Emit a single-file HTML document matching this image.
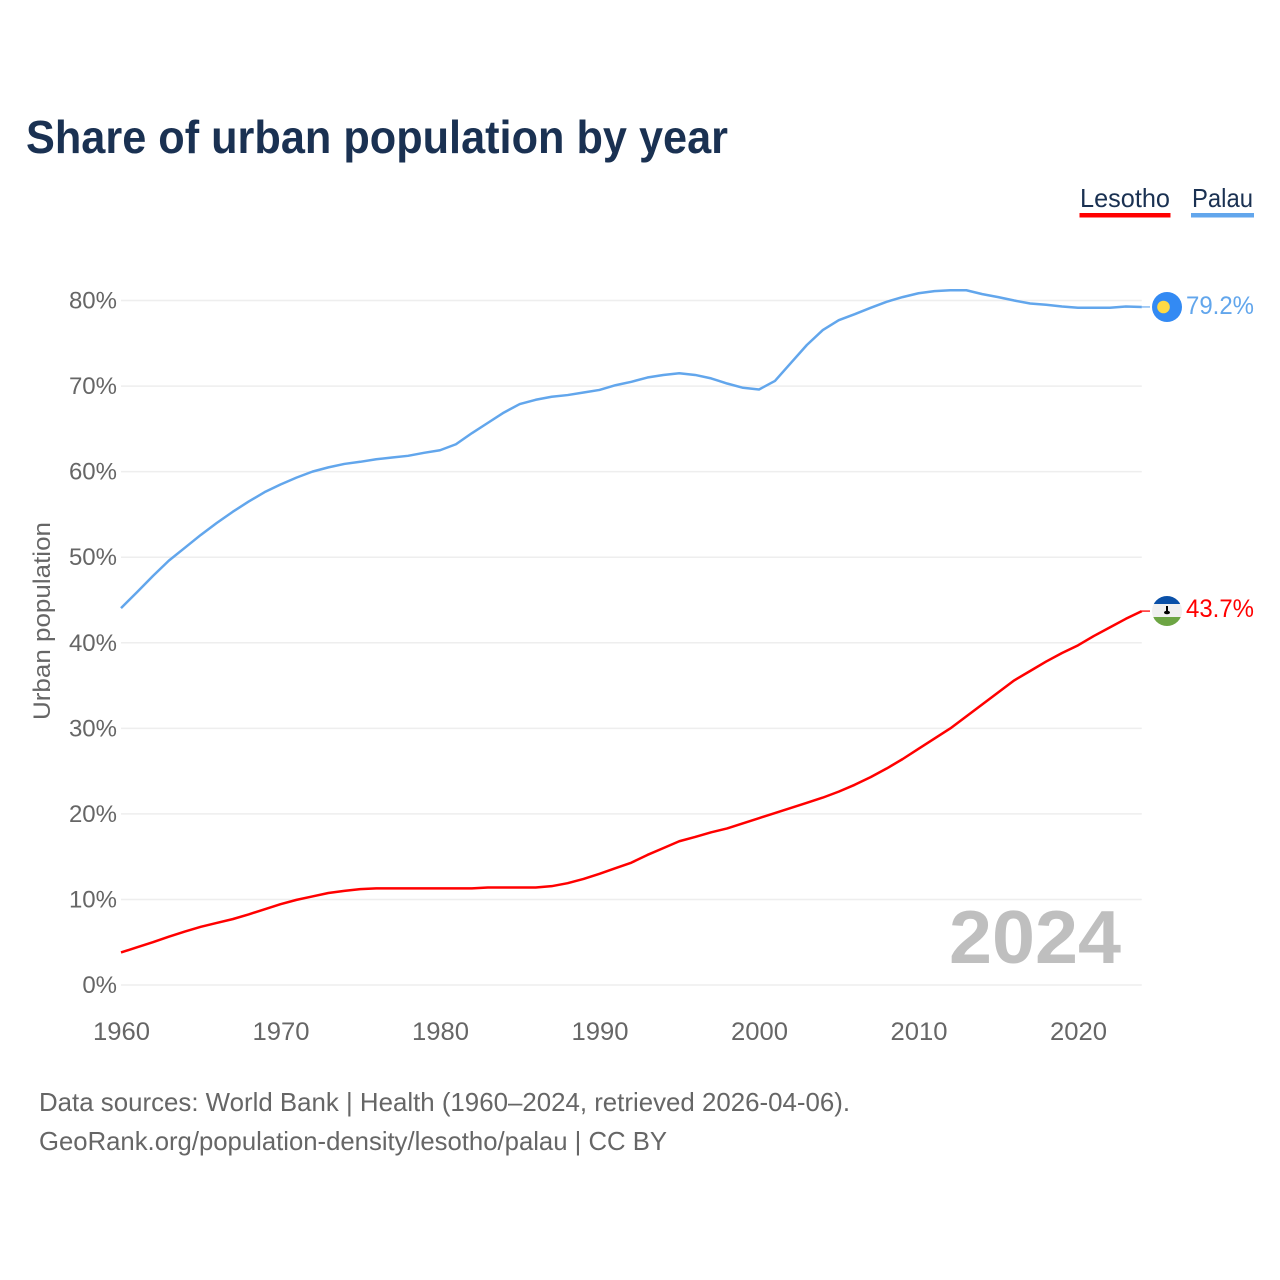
<!DOCTYPE html>
<html lang="en">
<head>
<meta charset="utf-8">
<title>Share of urban population by year</title>
<style>
html,body{margin:0;padding:0;background:#fff;}
#chart{display:block;width:1280px;height:1280px;font-family:"Liberation Sans",Arial,sans-serif;}
</style>
</head>
<body>
<svg id="chart" xmlns="http://www.w3.org/2000/svg" width="1280" height="1280" viewBox="0 0 1280 1280">
  <rect x="0" y="0" width="1280" height="1280" fill="#ffffff"/>
  <text x="26" y="153" font-size="46" font-weight="700" fill="#1a3152" textLength="702" lengthAdjust="spacingAndGlyphs">Share of urban population by year</text>

  <g>
    <text x="1080" y="207" font-size="26" fill="#1a3152" textLength="90" lengthAdjust="spacingAndGlyphs">Lesotho</text>
    <rect x="1079.5" y="213" width="91" height="4.5" fill="#ff0000"/>
  </g>
  <g>
    <text x="1192" y="207" font-size="26" fill="#1a3152" textLength="61" lengthAdjust="spacingAndGlyphs">Palau</text>
    <rect x="1191" y="213" width="63" height="4.5" fill="#62a6ec"/>
  </g>

  <g id="grid"></g>
  <g id="yticks"></g>
  <g id="xticks"></g>

  <text transform="translate(50,621) rotate(-90)" text-anchor="middle" font-size="24" fill="#666666" textLength="198" lengthAdjust="spacingAndGlyphs">Urban population</text>

  <text x="1121" y="963" text-anchor="end" font-size="75" font-weight="700" fill="#bfbfbf" textLength="172" lengthAdjust="spacingAndGlyphs">2024</text>

  <g id="series"></g>

  <g>
    <circle cx="1167" cy="307" r="15" fill="#338af3"/>
    <circle cx="1163.5" cy="307" r="6.3" fill="#ffda44"/>
  </g>
  <g>
    <clipPath id="lesotho-clip"><circle cx="1167" cy="611" r="15"/></clipPath>
    <g clip-path="url(#lesotho-clip)">
      <rect x="1150" y="595" width="34" height="9" fill="#0a50a8"/>
      <rect x="1150" y="604" width="34" height="13" fill="#f0f0f0"/>
      <rect x="1150" y="617" width="34" height="10" fill="#6da544"/>
      <rect x="1166" y="606" width="2" height="6" fill="#000"/>
      <ellipse cx="1167" cy="612.5" rx="3" ry="1.8" fill="#000"/>
    </g>
  </g>

  <text x="1254" y="314" text-anchor="end" font-size="25" fill="#62a6ec" textLength="68" lengthAdjust="spacingAndGlyphs">79.2%</text>
  <text x="1254" y="617" text-anchor="end" font-size="25" fill="#ff0000" textLength="68" lengthAdjust="spacingAndGlyphs">43.7%</text>

  <text x="39" y="1111" font-size="26" fill="#666666" textLength="811" lengthAdjust="spacingAndGlyphs">Data sources: World Bank | Health (1960–2024, retrieved 2026-04-06).</text>
  <text x="39" y="1150" font-size="26" fill="#666666" textLength="628" lengthAdjust="spacingAndGlyphs">GeoRank.org/population-density/lesotho/palau | CC BY</text>
</svg>
<script>
var firstYear = 1960;
var lastYear = 2024;
var yTickValues = [0,10,20,30,40,50,60,70,80];
var xTickYears = [1960,1970,1980,1990,2000,2010,2020];
var lesothoValues = [
  3.8,4.4,5.0,5.65,6.25,6.8,7.25,7.7,8.25,8.85,
  9.45,9.95,10.35,10.75,11.0,11.2,11.3,11.3,11.3,11.3,
  11.3,11.3,11.3,11.4,11.4,11.4,11.4,11.55,11.9,12.4,
  13.0,13.65,14.3,15.2,16.0,16.8,17.3,17.85,18.3,18.9,
  19.5,20.1,20.7,21.3,21.9,22.6,23.4,24.3,25.3,26.4,
  27.6,28.8,30.0,31.4,32.8,34.2,35.6,36.7,37.8,38.8,
  39.7,40.8,41.8,42.8,43.7
];
var palauValues = [
  44.05,45.9,47.8,49.6,51.1,52.6,54.0,55.3,56.5,57.6,
  58.5,59.3,60.0,60.5,60.9,61.15,61.45,61.65,61.85,62.2,
  62.5,63.2,64.5,65.7,66.9,67.9,68.4,68.75,68.95,69.25,
  69.55,70.1,70.5,71.0,71.3,71.5,71.3,70.9,70.3,69.8,
  69.6,70.6,72.7,74.8,76.55,77.7,78.4,79.15,79.85,80.4,
  80.85,81.1,81.2,81.2,80.75,80.4,80.0,79.65,79.5,79.3,
  79.15,79.15,79.15,79.3,79.25
];

function xScale(year) { return 121 + (year - firstYear) * 15.95; }
function yScale(pct) { return 985 - pct * 8.556; }

var svgNS = 'http://www.w3.org/2000/svg';
var gridGroup = document.getElementById('grid');
var yTickGroup = document.getElementById('yticks');
var xTickGroup = document.getElementById('xticks');
var seriesGroup = document.getElementById('series');

yTickValues.forEach(function (v) {
  var line = document.createElementNS(svgNS, 'line');
  
  
  line.setAttribute('x1', xScale(firstYear));
  line.setAttribute('x2', xScale(lastYear));
  line.setAttribute('y1', yScale(v));
  line.setAttribute('y2', yScale(v));
  line.setAttribute('stroke', '#eeeeee');
  line.setAttribute('stroke-width', '1.5');
  gridGroup.appendChild(line);

  var label = document.createElementNS(svgNS, 'text');
  
  
  label.setAttribute('x', 117);
  label.setAttribute('y', yScale(v) + 8);
  label.setAttribute('text-anchor', 'end');
  label.setAttribute('font-size', '24');
  label.setAttribute('fill', '#666666');
  label.textContent = v + '%';
  yTickGroup.appendChild(label);
});

xTickYears.forEach(function (year) {
  var label = document.createElementNS(svgNS, 'text');
  
  
  label.setAttribute('x', xScale(year) + 0.5);
  label.setAttribute('y', 1040);
  label.setAttribute('text-anchor', 'middle');
  label.setAttribute('font-size', '25');
  label.setAttribute('fill', '#666666');
  label.setAttribute('textLength', '57');
  label.setAttribute('lengthAdjust', 'spacingAndGlyphs');
  label.textContent = String(year);
  xTickGroup.appendChild(label);
});

function seriesPoints(values) {
  return values.map(function (v, i) {
    return xScale(firstYear + i).toFixed(2) + ',' + yScale(v).toFixed(2);
  }).join(' ');
}

var palauLine = document.createElementNS(svgNS, 'polyline');


palauLine.setAttribute('points', seriesPoints(palauValues));
palauLine.setAttribute('fill', 'none');
palauLine.setAttribute('stroke', '#62a6ec');
palauLine.setAttribute('stroke-width', '2.5');
palauLine.setAttribute('stroke-linejoin', 'round');
seriesGroup.appendChild(palauLine);

var lesothoLine = document.createElementNS(svgNS, 'polyline');


lesothoLine.setAttribute('points', seriesPoints(lesothoValues));
lesothoLine.setAttribute('fill', 'none');
lesothoLine.setAttribute('stroke', '#ff0000');
lesothoLine.setAttribute('stroke-width', '2.5');
lesothoLine.setAttribute('stroke-linejoin', 'round');
seriesGroup.appendChild(lesothoLine);

var palauEnd = yScale(palauValues[palauValues.length - 1]);
var palauConnector = document.createElementNS(svgNS, 'line');


palauConnector.setAttribute('x1', xScale(lastYear));
palauConnector.setAttribute('x2', 1150);
palauConnector.setAttribute('y1', palauEnd);
palauConnector.setAttribute('y2', palauEnd);
palauConnector.setAttribute('stroke', '#62a6ec');
palauConnector.setAttribute('stroke-opacity', '0.75');
palauConnector.setAttribute('stroke-width', '1.5');
seriesGroup.appendChild(palauConnector);

var lesothoEnd = yScale(lesothoValues[lesothoValues.length - 1]);
var lesothoConnector = document.createElementNS(svgNS, 'line');


lesothoConnector.setAttribute('x1', xScale(lastYear));
lesothoConnector.setAttribute('x2', 1150);
lesothoConnector.setAttribute('y1', lesothoEnd);
lesothoConnector.setAttribute('y2', lesothoEnd);
lesothoConnector.setAttribute('stroke', '#ff0000');
lesothoConnector.setAttribute('stroke-opacity', '0.85');
lesothoConnector.setAttribute('stroke-width', '1.5');
seriesGroup.appendChild(lesothoConnector);
</script>
</body>
</html>
